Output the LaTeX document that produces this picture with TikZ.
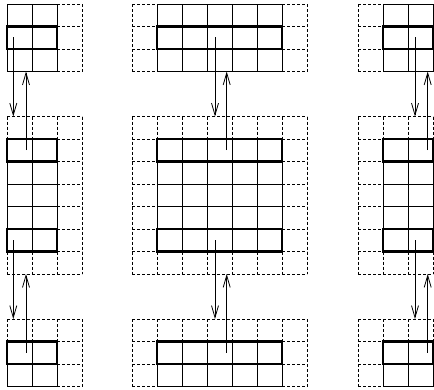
\documentclass[tikz,border=0pt]{standalone}
\usetikzlibrary{arrows.meta}
\tikzset{
  ghost/.style={line width=0.6pt,dash pattern=on 3pt off 2pt},
  inner/.style={line width=0.6pt},
  hl/.style={line width=2.2pt},
  link/.style={line width=0.8pt,-{Straight Barb[length=12pt,width=7pt,line width=0.8pt]}}
}
\newcommand\gblock[8]{%
  \foreach \i in {0,...,#3} \draw[ghost] ({#1+\i*25},#2) -- ++(0,{#4*22.5});
  \foreach \j in {0,...,#4} \draw[ghost] (#1,{#2+\j*22.5}) -- ++({#3*25},0);
  \foreach \i in {#5,...,#6} \draw[inner] ({#1+\i*25},{#2+#7*22.5}) -- ({#1+\i*25},{#2+#8*22.5});
  \foreach \j in {#7,...,#8} \draw[inner] ({#1+#5*25},{#2+\j*22.5}) -- ({#1+#6*25},{#2+\j*22.5});
}
\begin{document}
\begin{tikzpicture}[x=1pt,y=-1pt]
\useasboundingbox (0,0) rectangle (434,389);
% left column
\gblock{7.3}{4}{3}{3}{0}{2}{0}{3}
\draw[hl] (7.3,26.5) rectangle (57.3,49);
\gblock{7.3}{116.5}{3}{7}{0}{2}{1}{6}
\draw[hl] (7.3,139) rectangle (57.3,161.5);
\draw[hl] (7.3,229) rectangle (57.3,251.5);
\gblock{7.3}{319}{3}{3}{0}{2}{1}{3}
\draw[hl] (7.3,341.5) rectangle (57.3,364);
% middle column
\gblock{132.3}{4}{7}{3}{1}{6}{0}{3}
\draw[hl] (157.3,26.5) rectangle (282.3,49);
\gblock{132.3}{116.5}{7}{7}{1}{6}{1}{6}
\draw[hl] (157.3,139) rectangle (282.3,161.5);
\draw[hl] (157.3,229) rectangle (282.3,251.5);
\gblock{132.3}{319}{7}{3}{1}{6}{1}{3}
\draw[hl] (157.3,341.5) rectangle (282.3,364);
% right column
\gblock{358.3}{4}{3}{3}{1}{3}{0}{3}
\draw[hl] (383.3,26.5) rectangle (433.3,49);
\gblock{358.3}{116.5}{3}{7}{1}{3}{1}{6}
\draw[hl] (383.3,139) rectangle (433.3,161.5);
\draw[hl] (383.3,229) rectangle (433.3,251.5);
\gblock{358.3}{319}{3}{3}{1}{3}{1}{3}
\draw[hl] (383.3,341.5) rectangle (433.3,364);
% arrow endpoints
\foreach \n/\dx/\ux in {l/13.3/26, m/215/226.7, r/415/427.7}{
  \coordinate (\n d1s) at (\dx,37);
  \coordinate (\n d1e) at (\dx,116.5);
  \coordinate (\n u1s) at (\ux,150);
  \coordinate (\n u1e) at (\ux,71.5);
  \coordinate (\n d2s) at (\dx,240);
  \coordinate (\n d2e) at (\dx,319);
  \coordinate (\n u2s) at (\ux,352.5);
  \coordinate (\n u2e) at (\ux,274);
  \draw[link] (\n d1s) -- (\n d1e);
  \draw[link] (\n u1s) -- (\n u1e);
  \draw[link] (\n d2s) -- (\n d2e);
  \draw[link] (\n u2s) -- (\n u2e);
}
\end{tikzpicture}
\end{document}
